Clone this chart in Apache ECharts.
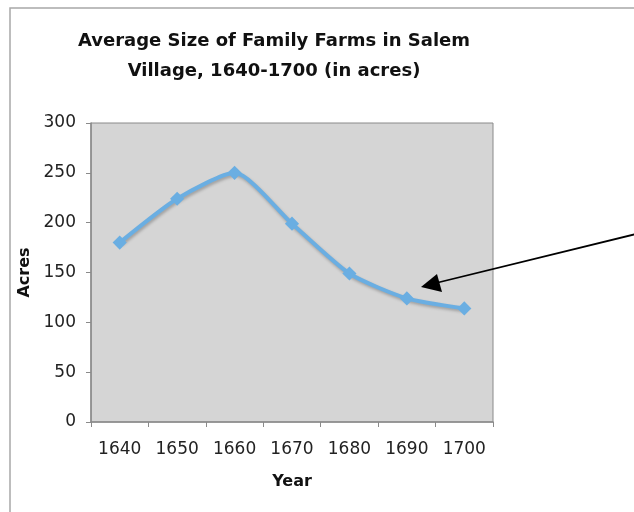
<!DOCTYPE html>
<html>
<head>
<meta charset="utf-8">
<script src="https://cdn.jsdelivr.net/npm/echarts@6/dist/echarts.min.js"></script>
<style>
  html, body { margin: 0; padding: 0; background: #fff; }
  #chartDiv { width: 634px; height: 512px; }
</style>
</head>
<body>
<div id="chartDiv"></div>
<script>
// data
var years = ['1640', '1650', '1660', '1670', '1680', '1690', '1700'];
var acres = [180, 224, 250, 199, 149, 124, 114];
var titleLines = ['Average Size of Family Farms in Salem', 'Village, 1640-1700 (in acres)'];

var fontMain = 'DejaVu Sans, Verdana, sans-serif';

var option = {
    backgroundColor: '#fff',
    animation: false,
    title: {
        text: titleLines.join('\n'),
        left: 269,
        top: 21,
        textAlign: 'center',
        textStyle: {
            fontFamily: fontMain,
            fontSize: 18,
            fontWeight: 'bold',
            color: '#111',
            lineHeight: 30
        }
    },
    grid: {
        left: 91,
        top: 123,
        right: 141,
        bottom: 90,
        show: true,
        backgroundColor: '#d5d5d5',
        borderColor: '#8a8a8a',
        borderWidth: 1
    },
    xAxis: {
        type: 'category',
        data: years,
        boundaryGap: true,
        name: 'Year',
        nameLocation: 'middle',
        nameGap: 52,
        nameTextStyle: { fontFamily: fontMain, fontSize: 16, fontWeight: 'bold', color: '#111' },
        axisLine: { lineStyle: { color: '#8a8a8a', width: 1.5 } },
        axisTick: { show: true, length: 5, alignWithLabel: false, lineStyle: { color: '#8a8a8a' } },
        axisLabel: { fontFamily: fontMain, fontSize: 17, color: '#222', margin: 19 },
        splitLine: { show: false }
    },
    yAxis: {
        type: 'value',
        min: 0,
        max: 300,
        interval: 50,
        name: 'Acres',
        nameLocation: 'middle',
        nameGap: 58,
        nameRotate: 90,
        nameTextStyle: { fontFamily: fontMain, fontSize: 16, fontWeight: 'bold', color: '#111' },
        axisLine: { show: true, lineStyle: { color: '#8a8a8a', width: 1.5 } },
        axisTick: { show: true, length: 5, lineStyle: { color: '#8a8a8a' } },
        axisLabel: { fontFamily: fontMain, fontSize: 17, color: '#222', margin: 15 },
        splitLine: { show: false }
    },
    series: [
        {
            name: 'Acres',
            type: 'line',
            data: acres,
            smooth: 0.22,
            symbol: 'rect',
            symbolSize: 10,
            symbolRotate: 45,
            itemStyle: { color: '#6aaee2' },
            lineStyle: {
                color: '#6aaee2',
                width: 4,
                shadowColor: 'rgba(0,0,0,0.25)',
                shadowBlur: 3,
                shadowOffsetX: 1,
                shadowOffsetY: 2
            }
        }
    ],
    graphic: [
        {
            type: 'rect',
            shape: { x: 10, y: 8, width: 700, height: 600 },
            style: { fill: 'none', stroke: '#a8a8a8', lineWidth: 1.5 },
            z: -1
        },
        {
            type: 'line',
            shape: { x1: 640, y1: 233, x2: 436, y2: 283 },
            style: { stroke: '#000', lineWidth: 1.8 },
            z: 100
        },
        {
            type: 'polygon',
            shape: { points: [[421, 287], [437, 274], [442, 292]] },
            style: { fill: '#000' },
            z: 100
        }
    ]
};

var myChart = echarts.init(document.getElementById('chartDiv'));
myChart.setOption(option);
</script>
</body>
</html>
